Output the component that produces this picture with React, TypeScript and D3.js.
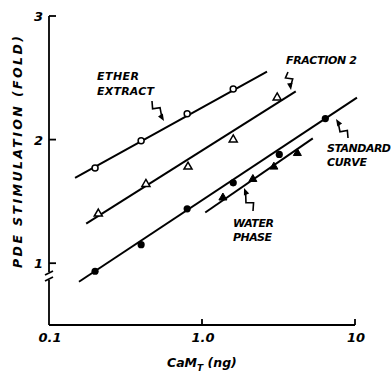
import { scaleLog, scaleLinear, line, symbol, symbolTriangle } from 'd3';

const etherX = [0.2, 0.4, 0.8, 1.6];
const etherY = [1.77, 1.99, 2.21, 2.41];
const fractionX = [0.21, 0.43, 0.81, 1.6, 3.1];
const fractionY = [1.4, 1.64, 1.78, 2.0, 2.34];
const standardX = [0.2, 0.4, 0.8, 1.6, 3.2, 6.4];
const standardY = [0.935, 1.15, 1.44, 1.65, 1.88, 2.17];
const waterX = [1.37, 2.15, 2.95, 4.2];
const waterY = [1.53, 1.68, 1.78, 1.89];

// fitted lines [x0, y0, x1, y1]
const etherFit = [0.148, 1.69, 2.66, 2.55];
const fractionFit = [0.175, 1.32, 4.1, 2.39];
const standardFit = [0.157, 0.85, 10.3, 2.34];
const waterFit = [1.05, 1.41, 5.3, 2.01];

const yTicks = [1, 2, 3];
const xTicks = [0.1, 1, 10];
const xTickLabels = ['0.1', '1.0', '10'];

const W = 392,
  H = 373;

const font = "'DejaVu Sans', sans-serif";

function squiggle(x1: number, y1: number, x2: number, y2: number) {
  const dx = x2 - x1,
    dy = y2 - y1;
  const L = Math.hypot(dx, dy);
  const ux = dx / L,
    uy = dy / L;
  const vx = -uy,
    vy = ux;
  const pts: [number, number][] = [
    [0, 0],
    [0.3, 3.5],
    [0.42, -3.5],
    [0.82, 0],
  ].map(([t, o]) => [x1 + ux * t * L + vx * o, y1 + uy * t * L + vy * o]);
  const d = line()(pts) as string;
  const bx = x2 - ux * 7,
    by = y2 - uy * 7;
  const head = `M${x2},${y2}L${bx + vx * 2.8},${by + vy * 2.8}L${bx - vx * 2.8},${by - vy * 2.8}Z`;
  return (
    <g>
      <path d={d} fill="none" stroke="#000" strokeWidth={1.6} />
      <path d={head} fill="#000" />
    </g>
  );
}

export default function App() {
  const x = scaleLog().domain([0.1, 10]).range([49, 355]);
  const y = scaleLinear().domain([0.5, 3]).range([325, 16]);

  const fitPath = (f: number[]) =>
    line()([
      [x(f[0]), y(f[1])],
      [x(f[2]), y(f[3])],
    ]) as string;

  const tri = symbol().type(symbolTriangle).size(28)() as string;

  const x0 = x(0.1),
    yBottom = y(0.5);
  const breakY = 276;

  const textProps = {
    fontFamily: font,
    fontWeight: 'bold' as const,
    fontStyle: 'italic' as const,
    fill: '#000',
  };

  return (
    <svg
      width={W}
      height={H}
      style={{ position: 'absolute', left: 0, top: 0, background: '#fff' }}
    >
      <rect width={W} height={H} fill="#fff" />
      {/* axes */}
      <g stroke="#000" strokeWidth={1.8} fill="none">
        <line x1={x0} y1={y(3)} x2={x0} y2={breakY - 4} />
        <line x1={x0} y1={breakY + 4} x2={x0} y2={yBottom} />
        <line x1={x0 - 4} y1={breakY - 1} x2={x0 + 4} y2={breakY - 5} />
        <line x1={x0 - 4} y1={breakY + 5} x2={x0 + 4} y2={breakY + 1} />
        <line x1={x0} y1={yBottom} x2={x(10)} y2={yBottom} />
        {yTicks.map((t) => (
          <line key={t} x1={x0} y1={y(t)} x2={x0 + 7} y2={y(t)} />
        ))}
        {xTicks.slice(1).map((t) => (
          <line key={t} x1={x(t)} y1={yBottom} x2={x(t)} y2={yBottom - 6} />
        ))}
      </g>
      <g {...textProps} fontSize={13}>
        {yTicks.map((t) => (
          <text key={t} x={x0 - 6} y={y(t) + 5} textAnchor="end">
            {t}
          </text>
        ))}
        {xTicks.map((t, i) => (
          <text key={t} x={x(t) + 1} y={342} textAnchor="middle">
            {xTickLabels[i]}
          </text>
        ))}
      </g>
      <text
        {...textProps}
        fontSize={12.5}
        transform="translate(22,152) rotate(-90)"
        textAnchor="middle"
        textLength={232}
        lengthAdjust="spacing"
      >
        PDE STIMULATION (FOLD)
      </text>
      <text {...textProps} fontSize={12.5} x={167} y={367}>
        CaM
        <tspan fontSize={9} dy={4}>
          T
        </tspan>
        <tspan dy={-4}> (ng)</tspan>
      </text>

      {/* fitted lines */}
      <g stroke="#000" strokeWidth={2} fill="none">
        {[etherFit, fractionFit, standardFit, waterFit].map((f, i) => (
          <path key={i} d={fitPath(f)} />
        ))}
      </g>

      {/* points */}
      {etherX.map((v, i) => (
        <circle
          key={'e' + i}
          cx={x(v)}
          cy={y(etherY[i])}
          r={3}
          fill="#fff"
          stroke="#000"
          strokeWidth={1.5}
        />
      ))}
      {fractionX.map((v, i) => (
        <path
          key={'f' + i}
          d={tri}
          transform={`translate(${x(v)},${y(fractionY[i])})`}
          fill="#fff"
          stroke="#000"
          strokeWidth={1.5}
        />
      ))}
      {standardX.map((v, i) => (
        <circle key={'s' + i} cx={x(v)} cy={y(standardY[i])} r={3.6} fill="#000" />
      ))}
      {waterX.map((v, i) => (
        <path
          key={'w' + i}
          d={tri}
          transform={`translate(${x(v)},${y(waterY[i])})`}
          fill="#000"
          stroke="#000"
          strokeWidth={1}
        />
      ))}

      {/* annotations */}
      <g {...textProps} fontSize={11}>
        <text x={97} y={80} textLength={42} lengthAdjust="spacing">
          ETHER
        </text>
        <text x={97} y={95} textLength={57} lengthAdjust="spacing">
          EXTRACT
        </text>
        <text x={286} y={64} textLength={71} lengthAdjust="spacing">
          FRACTION 2
        </text>
        <text x={327} y={152} textLength={64} lengthAdjust="spacing">
          STANDARD
        </text>
        <text x={327} y={166} textLength={40} lengthAdjust="spacing">
          CURVE
        </text>
        <text x={233} y={227} textLength={41} lengthAdjust="spacing">
          WATER
        </text>
        <text x={233} y={241} textLength={39} lengthAdjust="spacing">
          PHASE
        </text>
      </g>
      {squiggle(152, 101, 164, 121)}
      {squiggle(288, 72, 291, 90)}
      {squiggle(348, 138, 336, 119)}
      {squiggle(253, 211, 244, 188)}
    </svg>
  );
}
